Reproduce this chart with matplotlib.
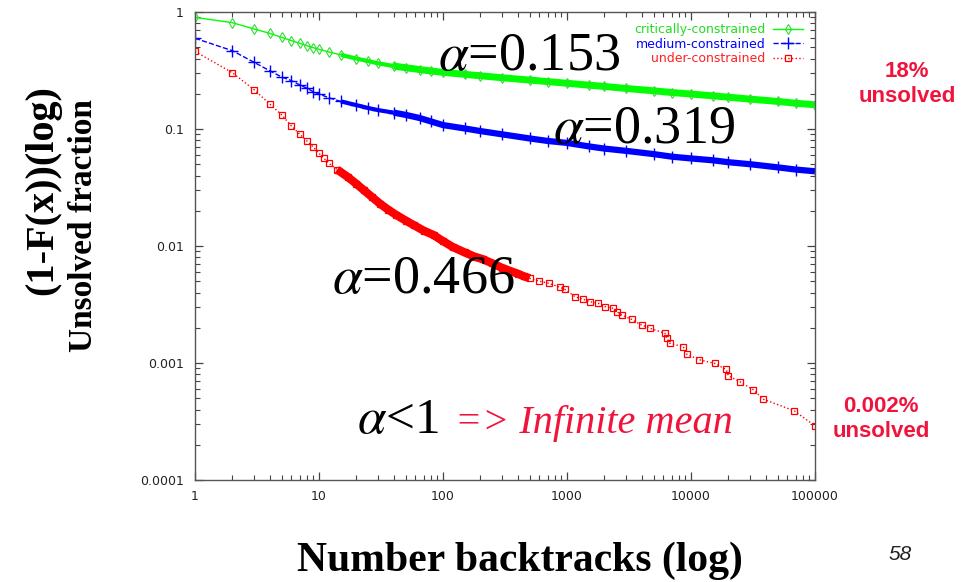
import matplotlib
matplotlib.use("Agg")
import matplotlib.pyplot as plt

plt.rcParams['mathtext.fontset'] = 'stix'

# backtracks (x) and unsolved fraction 1-F(x) (y)
crit_x = [1, 2, 3, 4, 5, 6, 7, 8, 9, 10, 12, 15, 20, 25, 30, 40, 50, 65, 80, 100,
          150, 200, 300, 500, 700, 1000, 1500, 2000, 3000, 5000, 7000, 10000,
          15000, 20000, 30000, 50000, 70000, 100000]
crit_y = [0.90, 0.81, 0.716, 0.657, 0.607, 0.569, 0.54, 0.515, 0.495, 0.48, 0.455,
          0.43, 0.40, 0.38, 0.364, 0.345, 0.334, 0.322, 0.313, 0.305, 0.293, 0.285,
          0.274, 0.262, 0.254, 0.246, 0.237, 0.231, 0.222, 0.212, 0.205, 0.199,
          0.192, 0.187, 0.180, 0.172, 0.166, 0.161]

med_x = crit_x
med_y = [0.596, 0.467, 0.371, 0.315, 0.278, 0.259, 0.238, 0.223, 0.208, 0.199, 0.185,
         0.172, 0.160, 0.151, 0.145, 0.138, 0.132, 0.124, 0.116, 0.108, 0.101, 0.096,
         0.090, 0.083, 0.079, 0.076, 0.071, 0.068, 0.065, 0.061, 0.058, 0.056,
         0.054, 0.052, 0.050, 0.047, 0.045, 0.0435]

under_x = [1, 2, 3, 4, 5, 6, 7, 8, 9, 10, 11, 12, 14, 17, 20, 23, 27, 31, 36, 42, 50,
           58, 70, 84, 100, 120, 150, 180, 210, 250, 300, 350, 400, 450, 500,
           590, 710, 880, 960, 1160, 1350, 1530, 1790, 2030, 2360, 2520, 2760, 3320,
           4000, 4670, 6170, 6360, 6770, 8670, 9230, 11500, 15600, 19200, 20000,
           24800, 31800, 38300, 68000, 100000]
under_y = [0.46, 0.303, 0.216, 0.164, 0.132, 0.106, 0.090, 0.079, 0.070, 0.062, 0.056,
           0.051, 0.045, 0.039, 0.034, 0.030, 0.026, 0.023, 0.0205, 0.0184, 0.0165,
           0.0151, 0.0135, 0.0124, 0.011, 0.0098, 0.0088, 0.0081, 0.0077, 0.0071,
           0.0065, 0.0061, 0.0058, 0.0055, 0.0053,
           0.00502, 0.0048, 0.00443, 0.00426, 0.00369, 0.0035, 0.00334, 0.00323,
           0.00303, 0.00293, 0.00275, 0.00257, 0.00236, 0.00211, 0.00198, 0.00179,
           0.00163, 0.00147, 0.00138, 0.00119, 0.00107, 0.00099, 0.00088, 0.00078,
           0.00069, 0.00059, 0.00049, 0.00039, 0.00029]

labels = ['critically-constrained', 'medium-constrained', 'under-constrained']
xticks = [1, 10, 100, 1000, 10000, 100000]
xtick_labels = ['1', '10', '100', '1000', '10000', '100000']
yticks = [1, 0.1, 0.01, 0.001, 0.0001]
ytick_labels = ['1', '0.1', '0.01', '0.001', '0.0001']

RED_TXT = '#f0143c'

fig = plt.figure(figsize=(9.73, 5.82), dpi=100)
ax = fig.add_axes([0.2004, 0.1753, 0.6372, 0.8041])

# dense marker bands (where the markers overlap into a thick stroke)
ax.plot(crit_x[11:16], crit_y[11:16], color='#00ff00', lw=3, solid_capstyle='butt')
ax.plot(crit_x[15:], crit_y[15:], color='#00ff00', lw=5, solid_capstyle='butt')
ax.plot(med_x[11:16], med_y[11:16], color='#0000ff', lw=3, solid_capstyle='butt')
ax.plot(med_x[15:], med_y[15:], color='#0000ff', lw=4.5, solid_capstyle='butt')
ax.plot(under_x[12:35], under_y[12:35], color='#ff0000', lw=6, solid_capstyle='butt')

ax.plot(crit_x, crit_y, color='#00ff00', lw=1, marker='d', ms=5, mfc='none',
        mec='#33dd33', mew=0.8, label=labels[0])
ax.plot(med_x, med_y, color='#0000ff', lw=1, ls='--', marker='+', ms=8,
        mew=1.0, label=labels[1])
ax.plot(under_x, under_y, color='#ff0000', lw=1, ls=':', marker='s', ms=5,
        mfc='none', mew=0.9, label=labels[2])

ax.set_xscale('log')
ax.set_yscale('log')
ax.set_xlim(1, 100000)
ax.set_ylim(0.0001, 1)
ax.set_xticks(xticks, xtick_labels)
ax.set_yticks(yticks, ytick_labels)
ax.tick_params(which='both', direction='in', top=True, right=True, colors='#444444',
               labelcolor='#222222', labelsize=9)
ax.tick_params(which='major', length=6, width=0.9)
ax.tick_params(which='minor', length=3.5, width=0.8)
ax.tick_params(axis='x', pad=7)
ax.tick_params(axis='y', pad=8)
for s in ax.spines.values():
    s.set_color('#555555')
    s.set_linewidth(1.0)

leg = ax.legend(loc='upper right', bbox_to_anchor=(0.995, 0.995), frameon=False,
                markerfirst=False, fontsize=9, handlelength=2.4, handletextpad=0.6,
                labelspacing=0.12, borderaxespad=0.3)
for t, c in zip(leg.get_texts(), ['#22dd22', '#0000ff', '#ff2020']):
    t.set_color(c)

serif = 'Liberation Serif'
big = 39
fig.text(438 / 973, 1 - 70 / 582, r'$\alpha$=0.153', family=serif, fontsize=big,
         ha='left', va='baseline')
fig.text(553 / 973, 1 - 143 / 582, r'$\alpha$=0.319', family=serif, fontsize=big,
         ha='left', va='baseline')
fig.text(332 / 973, 1 - 293 / 582, r'$\alpha$=0.466', family=serif, fontsize=big,
         ha='left', va='baseline')
fig.text(357 / 973, 1 - 433 / 582, r'$\alpha$<1', family=serif, fontsize=37,
         ha='left', va='baseline')
fig.text(455 / 973, 1 - 433 / 582, '=> Infinite mean', family=serif, fontsize=29,
         style='italic', color=RED_TXT, ha='left', va='baseline')

fig.text(907 / 973, 1 - 84 / 582, '18%\nunsolved', family='Liberation Sans',
         fontsize=16, weight='bold', color=RED_TXT, ha='center', va='center',
         linespacing=1.2)
fig.text(881 / 973, 1 - 419 / 582, '0.002%\nunsolved', family='Liberation Sans',
         fontsize=16, weight='bold', color=RED_TXT, ha='center', va='center',
         linespacing=1.2)
fig.text(900 / 973, 1 - 554 / 582, '58', family='Liberation Sans', fontsize=15,
         style='italic', color='#222222', ha='center', va='center')

fig.text(520 / 973, 1 - 571 / 582, 'Number backtracks (log)', family=serif,
         fontsize=30, weight='bold', ha='center', va='baseline')
fig.text(43 / 973, 1 - 190 / 582, '(1-F(x))(log)', family=serif, fontsize=29,
         weight='bold', rotation=90, ha='center', va='center')
fig.text(83 / 973, 1 - 226 / 582, 'Unsolved fraction', family=serif, fontsize=24,
         weight='bold', rotation=90, ha='center', va='center')

fig.savefig('out.png', dpi=100)
